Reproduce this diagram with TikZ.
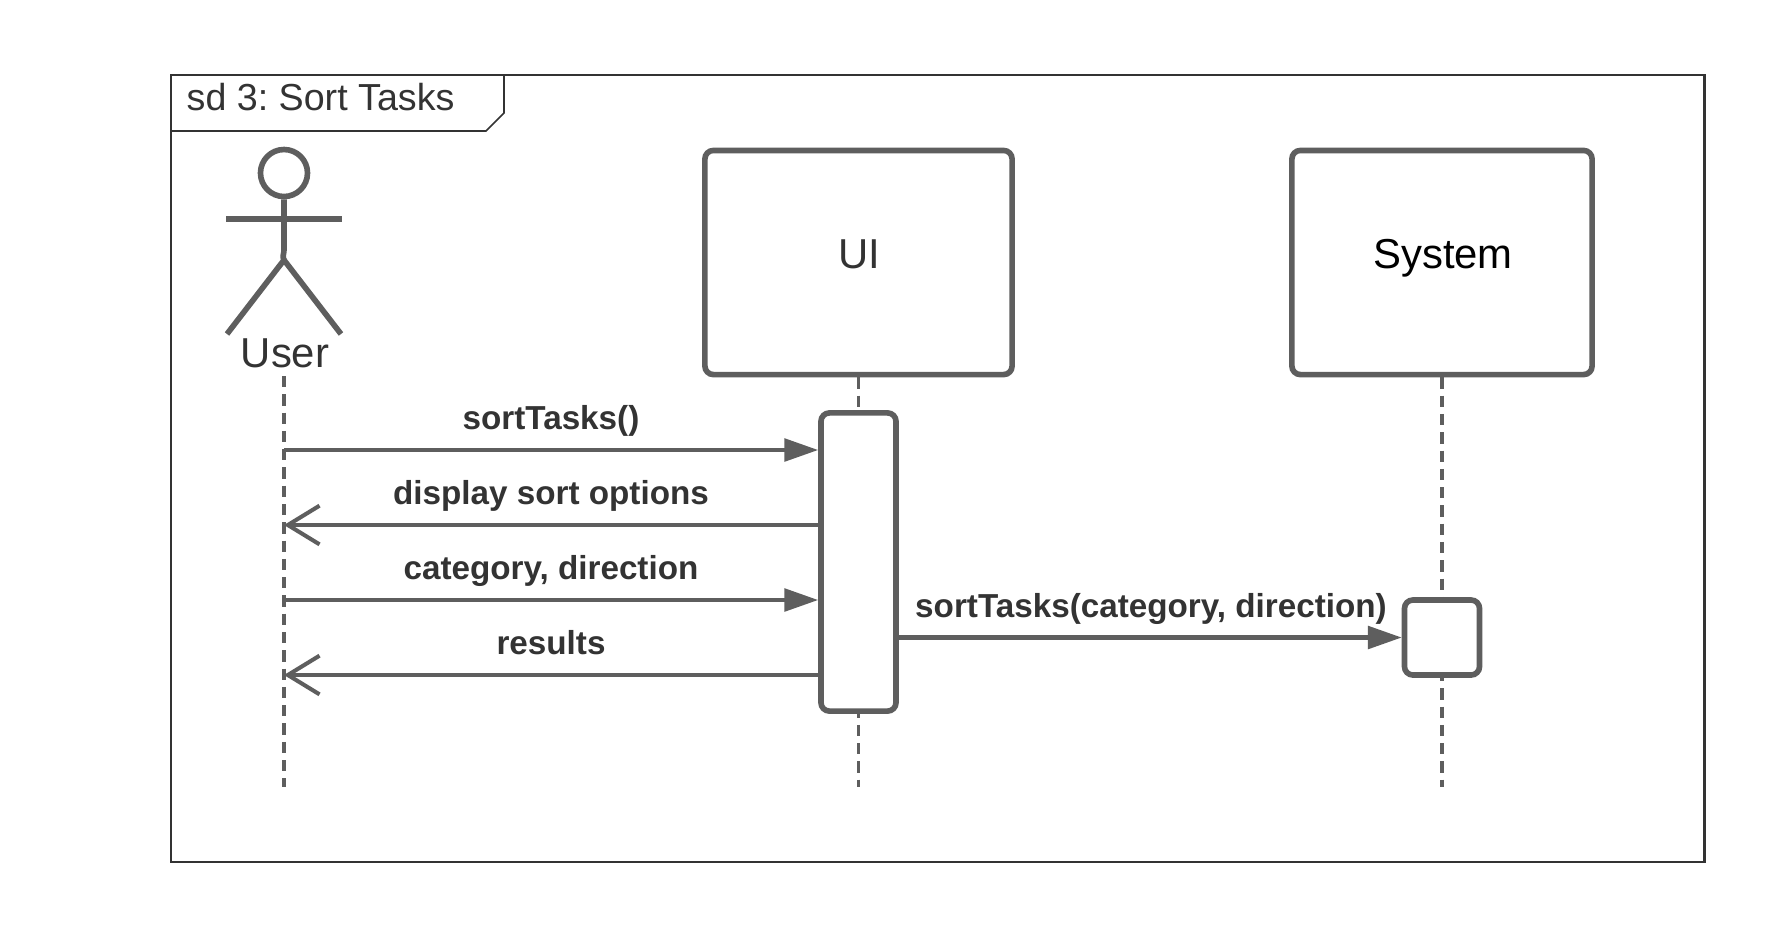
\documentclass[tikz,border=0pt]{standalone}
\usepackage{fontspec}
\setmainfont{Liberation Sans}
\usepackage{xcolor}
\usetikzlibrary{
    arrows.meta,
    calc,
    positioning
}
\frenchspacing
\definecolor{umlline}{HTML}{5E5E5E}
\definecolor{umltext}{HTML}{333333}
\tikzset{headbox/.style={draw=umlline, line width=1.6pt, rounded corners=2.4pt, fill=white, inner sep=0pt}}
\tikzset{actbox/.style={draw=umlline, line width=1.6pt, rounded corners=2.4pt, fill=white, inner sep=0pt, minimum width=0.75cm}}
\tikzset{lfl/.style={draw=umlline, line width=1.1pt, dash pattern=on 3.2pt off 2pt}}
\tikzset{stick/.style={draw=umlline, line width=1.6pt}}
\tikzset{callmsg/.style={draw=umlline, line width=1.15pt, -{Triangle[length=9.6pt, width=6.4pt]}}}
\tikzset{retmsg/.style={draw=umlline, line width=1.15pt, -{Straight Barb[length=9pt, width=11pt]}}}
\tikzset{msgtxt/.style={inner sep=0pt, anchor=base, text=umltext, font=\fontsize{9.45pt}{11pt}\selectfont\bfseries}}
\tikzset{bigtxt/.style={inner sep=0pt, anchor=base, text=umltext, font=\fontsize{11.9pt}{14pt}\selectfont}}

\begin{document}
\begin{tikzpicture}[x=0.01cm, y=-0.01cm]
    \fill[white, use as bounding box] (0, 0) rectangle (1778, 938);

    % frame and its tab
    \draw[umltext, line width=0.6pt] (171, 75) rectangle (1704.5, 862);
    \draw[umltext, line width=0.45pt] (504, 75) -- (504, 113) -- (486, 131) -- (171, 131);
    \node[bigtxt, anchor=base west, font=\fontsize{10.7pt}{12pt}\selectfont] (frametxt) at (186, 110) {sd 3: Sort Tasks};

    % user
    \node[circle, stick, fill=white, minimum size=0.47cm, inner sep=0pt] (userhead) at (284, 173) {};
    \coordinate (userhip) at (284, 260);
    \coordinate (userarml) at (226, 219);
    \coordinate (userarmr) at (342, 219);
    \draw[stick] (userhead) -- (284, 250) to[out=270, in=120] (userhip);
    \draw[stick] (userarml) -- (userarmr);
    \draw[stick] (227, 334) -- (userhip) -- (341, 334);
    \node[bigtxt] (usertxt) at (285, 367) {User};

    % heads
    \node[headbox, minimum width=3.07cm, minimum height=2.24cm] (uihead) at (858.5, 262.5) {};
    \node[headbox, minimum width=3cm, minimum height=2.24cm] (syshead) at (1442, 262.5) {};
    \node[bigtxt] (uitxt) at (859.5, 268) {UI};
    \node[bigtxt, text=black] (systxt) at (1443, 268) {System};

    % lifelines
    \coordinate (userend) at (284, 787);
    \coordinate (uiend) at (uihead |- userend);
    \coordinate (sysend) at (1442, 787);
    \coordinate (userstart) at (284, 376);
    \draw[lfl] (userstart) -- (userend);
    \draw[lfl] (uihead.south) -- (uiend);
    \draw[lfl] (syshead.south) -- (sysend);

    % activations
    \node[actbox, minimum height=2.98cm] (uibar) at (858.5, 562) {};
    \node[actbox, minimum height=0.75cm] (sysbar) at (1442, 637.5) {};

    % messages
    \coordinate (m1) at (284, 450);
    \coordinate (m2) at (284, 525);
    \coordinate (m3) at (284, 600);
    \coordinate (m4) at (284, 675);
    \draw[callmsg] (m1) -- (m1 -| uibar.west);
    \draw[retmsg] (m2 -| uibar.west) -- (m2);
    \draw[callmsg] (m3) -- (m3 -| uibar.west);
    \draw[retmsg] (m4 -| uibar.west) -- (m4);
    \draw[callmsg] (uibar.east |- sysbar.west) -- (sysbar.west);

    \node[msgtxt] (m1txt) at (551, 429) {sortTasks()};
    \node[msgtxt] (m2txt) at (551, 504) {display sort options};
    \node[msgtxt] (m3txt) at (551, 579) {category, direction};
    \node[msgtxt] (m4txt) at (551, 654) {results};
    \node[msgtxt] (m5txt) at (1151, 617) {sortTasks(category, direction)};
\end{tikzpicture}
\end{document}
